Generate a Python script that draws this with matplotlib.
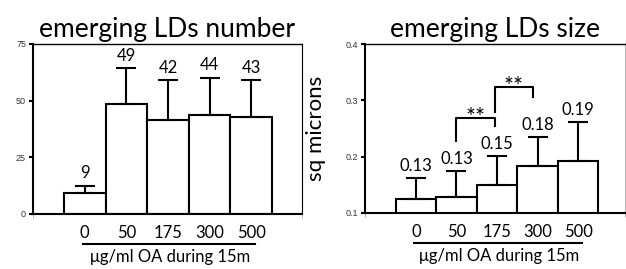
import matplotlib
matplotlib.use("Agg")
import matplotlib.pyplot as plt

# ---- data ----
categories = ["0", "50", "175", "300", "500"]
number_mean = [9.3, 48.7, 41.6, 43.6, 42.6]
number_err = [3.2, 15.8, 17.6, 16.6, 16.6]
number_labels = ["9", "49", "42", "44", "43"]
number_yticks = [0, 25, 50, 75]

size_mean = [0.125, 0.129, 0.150, 0.183, 0.192]
size_err = [0.037, 0.045, 0.051, 0.052, 0.070]
size_labels = ["0.13", "0.13", "0.15", "0.18", "0.19"]
size_yticks = [0.1, 0.2, 0.3, 0.4]

# significance brackets: (x_left, x_right, y_top, y_left_bottom, y_right_bottom, text)
brackets = [
    (0.98, 1.94, 0.268, 0.227, 0.255, "**"),
    (1.94, 2.88, 0.323, 0.280, 0.3055, "**"),
]

xlabel = "\u03bcg/ml OA during 15m"
TFONT = ["Lato", "DejaVu Sans"]

fig = plt.figure(figsize=(6.26, 2.69), dpi=100)

def panel(rect, means, errs, labels, yticks, ylim, xlim, title, ylabel=None):
    ax = fig.add_axes(rect)
    x = list(range(len(categories)))
    ax.bar(x, means, width=1.0, color="white", edgecolor="black", linewidth=1.5, zorder=2)
    ax.errorbar(x, means, yerr=[[0] * len(errs), errs], fmt="none", ecolor="black",
                elinewidth=1.5, capsize=7, capthick=1.5, zorder=3)
    for xi, m, e, lab in zip(x, means, errs, labels):
        ax.annotate(lab, (xi, m + e), xytext=(0, 3), textcoords="offset points",
                    ha="center", va="bottom", fontsize=12, family=TFONT)
    ax.set_xlim(*xlim)
    ax.set_ylim(*ylim)
    ax.set_yticks(yticks)
    ax.set_yticklabels([str(t) for t in yticks], fontsize=6.5, color="#333333",
                       family=["Liberation Sans"])
    ax.set_xticks(x)
    ax.set_xticklabels(categories, fontsize=12, family=TFONT)
    ax.tick_params(axis="x", length=0, pad=8)
    ax.tick_params(axis="y", length=3, width=1.5, direction="out", pad=2)
    ax.set_xticks([xlim[0], xlim[1]], minor=True)
    ax.tick_params(axis="x", which="minor", length=3, width=0.6, color="#aaaaaa")
    ax.spines["left"].set_linewidth(1.5)
    ax.spines["bottom"].set_linewidth(1.5)
    ax.spines["top"].set_linewidth(1.0)
    ax.spines["right"].set_linewidth(0.8)
    ax.set_title(title, fontsize=19, family=TFONT, pad=5)
    tr = ax.get_xaxis_transform()
    ax.plot([-0.05, 4.1], [-0.176, -0.176], color="black", lw=1.5, transform=tr, clip_on=False)
    ax.text(2.05, -0.255, xlabel, transform=tr, ha="center", va="center",
            fontsize=12, family=TFONT)
    if ylabel:
        ax.set_ylabel(ylabel, fontsize=16, family=TFONT)
        ax.yaxis.set_label_coords(-0.15, 0.5)
    return ax

ax1 = panel([0.0527, 0.2045, 0.4297, 0.632], number_mean, number_err, number_labels,
            number_yticks, (0, 75), (-1.245, 5.22), "emerging LDs number")
ax2 = panel([0.583, 0.2082, 0.415, 0.628], size_mean, size_err, size_labels,
            size_yticks, (0.1, 0.4), (-1.256, 5.15), "emerging LDs size", ylabel="sq microns")
ax2.spines["right"].set_color("#bbbbbb")

for xl, xr, yt, yl, yr, txt in brackets:
    ax2.plot([xl, xl, xr, xr], [yl, yt, yt, yr], color="black", lw=1.5, zorder=4)
    ax2.annotate(txt, ((xl + xr) / 2, yt), xytext=(0, -7), textcoords="offset points",
                 ha="center", va="bottom", fontsize=17, family=TFONT)

fig.savefig("out.png", dpi=100)
